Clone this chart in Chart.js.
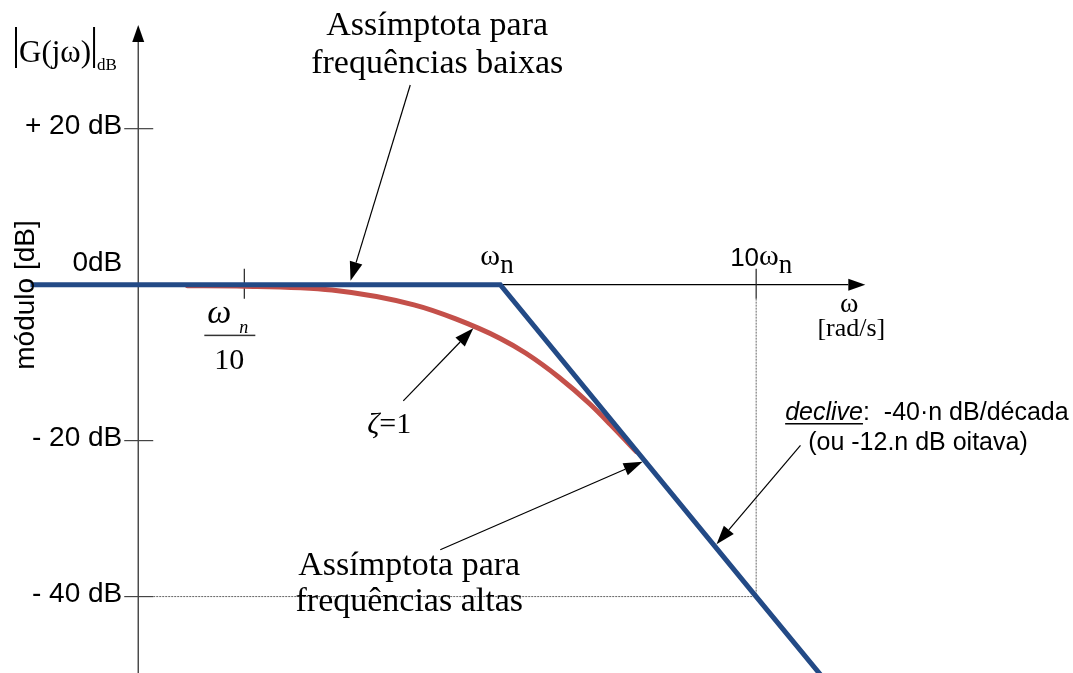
<!DOCTYPE html>
<html>
<head>
<meta charset="utf-8">
<title>Diagrama de Bode - módulo</title>
<script src="https://cdn.jsdelivr.net/npm/chart.js@4/dist/chart.umd.min.js"></script>
<style>
  html, body { margin: 0; padding: 0; background: #fff; }
  #bode { display: block; }
</style>
</head>
<body>
<canvas id="bode" width="1073" height="673"></canvas>
<script>
// frequência normalizada (ω / ωn) e módulo em dB
const asymptoteW = [0.0146, 1, 10, 20];
const asymptoteDb = [0, 0, -40, -52];

const zetaOneW = [0.06, 0.1, 0.22, 0.46, 0.67, 1.0, 1.26, 1.7, 2.24, 2.69, 3.16, 3.4];
const zetaOneDb = [-0.15, -0.2, -0.7, -2.6, -4.4, -6.9, -8.8, -11.9, -15.3, -17.9, -20.3, -21.4];

const dbTicks = [20, 0, -20, -40];
const dbTickLabels = ['+ 20 dB', '0dB', '- 20 dB', '- 40 dB'];
const freqTicks = [0.1, 1, 10];

// onde os eixos se cruzam / terminam (em unidades dos dados)
const yAxisAtW = 0.0385;
const yAxisTopDb = 33.3;
const xAxisEndW = 26.7;

const SANS = '"Liberation Sans", Arial, sans-serif';
const SERIF = '"Liberation Serif", "Times New Roman", serif';

// setas de anotação: [ω, dB] de início e de ponta
const notes = [
  { from: [0.445, 25.6], to: [0.26, 0.5] },
  { from: [0.418, -14.9], to: [0.785, -5.6] },
  { from: [0.583, -34.0], to: [3.6, -22.7] },
  { from: [14.9, -20.6], to: [7.0, -33.3] }
];

function arrow(ctx, x1, y1, x2, y2, head, half) {
  const a = Math.atan2(y2 - y1, x2 - x1);
  const bx = x2 - head * Math.cos(a);
  const by = y2 - head * Math.sin(a);
  ctx.beginPath();
  ctx.moveTo(x1, y1);
  ctx.lineTo(bx, by);
  ctx.stroke();
  ctx.beginPath();
  ctx.moveTo(x2, y2);
  ctx.lineTo(bx + half * Math.sin(a), by - half * Math.cos(a));
  ctx.lineTo(bx - half * Math.sin(a), by + half * Math.cos(a));
  ctx.closePath();
  ctx.fill();
}

// eixos, marcas e linhas de chamada (desenhados por baixo das curvas)
const bodeAxes = {
  id: 'bodeAxes',
  beforeDatasetsDraw(chart) {
    const { ctx, chartArea, scales: { x, y } } = chart;
    const ax = x.getPixelForValue(yAxisAtW);
    const ay = y.getPixelForValue(0);
    const top = y.getPixelForValue(yAxisTopDb);
    const right = x.getPixelForValue(xAxisEndW);
    ctx.save();

    // eixo vertical
    ctx.strokeStyle = '#333';
    ctx.fillStyle = '#000';
    ctx.lineWidth = 1.3;
    arrow(ctx, ax, chartArea.bottom, ax, top, 17, 6);

    // eixo horizontal
    ctx.strokeStyle = '#000';
    arrow(ctx, ax, ay, right, ay, 17, 6);

    // marcas do eixo dos dB
    ctx.strokeStyle = '#444';
    ctx.lineWidth = 1.2;
    dbTicks.forEach(v => {
      if (v === 0) return;
      const ty = y.getPixelForValue(v);
      ctx.beginPath();
      ctx.moveTo(ax - 14, ty);
      ctx.lineTo(ax + 15, ty);
      ctx.stroke();
    });

    // marcas do eixo das frequências (ωn fica só com a etiqueta)
    ctx.strokeStyle = '#222';
    [freqTicks[0], freqTicks[2]].forEach(v => {
      const tx = x.getPixelForValue(v);
      ctx.beginPath();
      ctx.moveTo(tx, ay - 16);
      ctx.lineTo(tx, ay + 14);
      ctx.stroke();
    });

    // linhas pontilhadas até (10ωn, -40 dB)
    const dx = x.getPixelForValue(freqTicks[2]);
    const dy = y.getPixelForValue(-40);
    ctx.strokeStyle = '#666';
    ctx.lineWidth = 1;
    ctx.setLineDash([2, 1]);
    ctx.beginPath();
    ctx.moveTo(ax + 15, dy);
    ctx.lineTo(dx, dy);
    ctx.moveTo(dx, ay + 14);
    ctx.lineTo(dx, dy);
    ctx.stroke();
    ctx.restore();
  }
};

// textos e setas por cima das curvas
const bodeLabels = {
  id: 'bodeLabels',
  afterDatasetsDraw(chart) {
    const { ctx, chartArea, scales: { x, y } } = chart;
    const px = w => x.getPixelForValue(w);
    const py = v => y.getPixelForValue(v);
    const ax = px(yAxisAtW);
    const ay = py(0);
    ctx.save();
    ctx.fillStyle = '#000';

    // etiquetas do eixo dos dB
    ctx.font = '28px ' + SANS;
    ctx.textAlign = 'right';
    dbTicks.forEach((v, i) => {
      if (v === 0) {
        ctx.textBaseline = 'alphabetic';
        ctx.fillText(dbTickLabels[i], ax - 16, ay - 14);
      } else {
        ctx.textBaseline = 'middle';
        ctx.fillText(dbTickLabels[i], ax - 16, py(v) - 2);
      }
    });

    // título do eixo vertical
    ctx.save();
    ctx.translate(chartArea.left + 34, 295);
    ctx.rotate(-Math.PI / 2);
    ctx.textAlign = 'center';
    ctx.textBaseline = 'alphabetic';
    ctx.font = '28px ' + SANS;
    ctx.fillText('módulo [dB]', 0, 0);
    ctx.restore();

    // |G(jω)| dB
    ctx.textAlign = 'left';
    ctx.textBaseline = 'alphabetic';
    ctx.font = '31px ' + SERIF;
    const gx = chartArea.left + 19;
    const gText = 'G(jω)';
    ctx.fillText(gText, gx, 62);
    const gw = ctx.measureText(gText).width;
    ctx.fillRect(gx - 4, 27, 2, 41);
    ctx.fillRect(gx + gw + 2, 27, 2, 41);
    ctx.font = '17px ' + SERIF;
    ctx.fillText('dB', gx + gw + 6, 70);

    // ωn / 10 sob a primeira marca
    const t0 = px(freqTicks[0]);
    ctx.font = 'italic 34px ' + SERIF;
    ctx.fillText('ω', t0 - 37, ay + 38);
    ctx.font = 'italic 18px ' + SERIF;
    ctx.fillText('n', t0 - 5, ay + 48);
    ctx.fillStyle = '#333';
    ctx.fillRect(t0 - 40, ay + 50, 51, 1.5);
    ctx.fillStyle = '#000';
    ctx.font = '30px ' + SERIF;
    ctx.textAlign = 'center';
    ctx.fillText('10', t0 - 15, ay + 84);

    // ωn no canto da assímptota
    ctx.textAlign = 'left';
    const t1 = px(freqTicks[1]);
    ctx.font = '30px ' + SERIF;
    ctx.fillText('ω', t1 - 20, ay - 20);
    ctx.font = '27px ' + SERIF;
    ctx.fillText('n', t1 + 0, ay - 12);

    // 10ωn
    const t2 = px(freqTicks[2]);
    ctx.font = '26px ' + SANS;
    ctx.fillText('10', t2 - 26, ay - 19);
    let cx = t2 - 26 + ctx.measureText('10').width;
    ctx.font = '30px ' + SERIF;
    ctx.fillText('ω', cx, ay - 20);
    cx += ctx.measureText('ω').width;
    ctx.font = '27px ' + SERIF;
    ctx.fillText('n', cx, ay - 12);

    // unidades do eixo horizontal
    const xe = px(xAxisEndW);
    ctx.textAlign = 'center';
    ctx.font = '28px ' + SERIF;
    ctx.fillText('ω', xe - 16, ay + 27);
    ctx.font = '26px ' + SERIF;
    ctx.fillText('[rad/s]', xe - 14, ay + 51);

    // textos das assímptotas
    ctx.font = '34px ' + SERIF;
    ctx.fillText('Assímptota para', px(0.567), py(32.0));
    ctx.fillText('frequências baixas', px(0.567), py(27.1));
    ctx.fillText('Assímptota para', px(0.441), py(-37.2));
    ctx.fillText('frequências altas', px(0.441), py(-41.8));

    // ζ = 1
    ctx.textAlign = 'left';
    ctx.font = 'italic 30px ' + SERIF;
    ctx.fillText('ζ', px(0.302), py(-19.0));
    const zw = ctx.measureText('ζ').width;
    ctx.font = '30px ' + SERIF;
    ctx.fillText('=1', px(0.302) + zw, py(-19.0));

    // declive
    const dxl = px(12.98);
    const dyl = py(-17.36);
    ctx.font = 'italic 25px ' + SANS;
    ctx.fillText('declive', dxl, dyl);
    const dw = ctx.measureText('declive').width;
    ctx.fillRect(dxl, dyl + 3, dw, 1.5);
    ctx.font = '25px ' + SANS;
    ctx.fillText(':  -40·n dB/década', dxl + dw, dyl);
    ctx.fillText('(ou -12.n dB oitava)', px(15.97), py(-21.21));

    // setas
    ctx.strokeStyle = '#000';
    ctx.lineWidth = 1.2;
    notes.forEach(n => {
      arrow(ctx, px(n.from[0]), py(n.from[1]), px(n.to[0]), py(n.to[1]), 19, 6.5);
    });
    ctx.restore();
  }
};

const ctx = document.getElementById('bode').getContext('2d');

new Chart(ctx, {
  type: 'line',
  data: {
    datasets: [
      {
        label: 'Assímptotas',
        data: asymptoteW.map((w, i) => ({ x: w, y: asymptoteDb[i] })),
        borderColor: '#234a86',
        borderWidth: 5,
        borderJoinStyle: 'miter',
        pointRadius: 0,
        tension: 0
      },
      {
        label: 'ζ = 1',
        data: zetaOneW.map((w, i) => ({ x: w, y: zetaOneDb[i] })),
        borderColor: '#c4504a',
        borderWidth: 5,
        borderCapStyle: 'round',
        cubicInterpolationMode: 'monotone',
        pointRadius: 0
      }
    ]
  },
  options: {
    responsive: false,
    animation: false,
    layout: { padding: 0 },
    plugins: {
      legend: { display: false },
      tooltip: { enabled: false }
    },
    scales: {
      x: { type: 'logarithmic', min: 0.0111, max: 173, display: false },
      y: { type: 'linear', min: -49.8, max: 36.5, display: false }
    }
  },
  plugins: [bodeAxes, bodeLabels]
});
</script>
</body>
</html>
